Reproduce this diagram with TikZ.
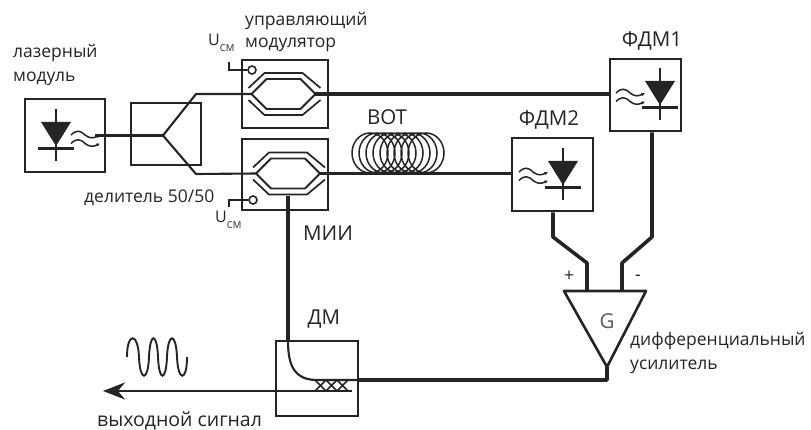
\documentclass[tikz,border=0pt]{standalone}
\usepackage{fontspec}
\setmainfont{Open Sans}
\usetikzlibrary{arrows.meta}
\definecolor{ink}{gray}{0.14}
\tikzset{
    diode/.pic={
        \fill[ink] (-15,-24) -- (15,-24) -- (0,0) -- cycle;
        \draw[ink, line width=2.2pt] (0,-37) -- (0,15);
        \draw[ink, line width=2.2pt] (-18,2.5) -- (18,2.5);
    },
    waves/.pic={
        \foreach \wy in {0,8.5} {
            \draw[ink, line width=1.5pt, -{Latex[length=3.5pt,width=3.5pt]}] (0,\wy)
                .. controls (5,\wy-5) and (9,\wy-5) .. (14,\wy)
                .. controls (19,\wy+4) and (23,\wy+3) .. (29,\wy);
        }
    },
    mzi/.pic={
        \draw[ink, line width=1.9pt, line join=round] (-32,0) -- (-17,-15) -- (17,-15) -- (32,0)
            -- (17,15) -- (-17,15) -- cycle;
        \draw[ink, line width=1.7pt] (-35,-6) -- (-19,-21) -- (19,-21) -- (37,-6);
        \draw[ink, line width=1.7pt] (-35,6) -- (-19,21) -- (19,21) -- (37,6);
    }
}
\begin{document}
\begin{tikzpicture}[
    x=1pt, y=-1pt,
    box/.style={rectangle, draw=ink, line width=2.6pt, inner sep=0pt},
    fibre/.style={draw=ink, line width=2.1pt},
    thickfibre/.style={draw=ink, line width=3.6pt},
    label/.style={inner sep=0pt, text=ink, font=\fontsize{17.5}{20}\selectfont},
    biglabel/.style={inner sep=0pt, text=ink, font=\fontsize{20.5}{24}\selectfont},
    volt/.style={inner sep=0pt, text=ink, font=\fontsize{16}{18}\selectfont}
]
\useasboundingbox (0,0) rectangle (811,430);
% boxes
\node[box, minimum width=80pt, minimum height=73pt] (laser) at (65,135.5) {};
\node[box, minimum width=70pt, minimum height=62pt] (splitter) at (166,134) {};
\node[box, minimum width=86pt, minimum height=68pt] (modtop) at (285,94) {};
\node[box, minimum width=86pt, minimum height=71pt] (modbottom) at (285,174.5) {};
\node[box, minimum width=71pt, minimum height=72pt] (fdmone) at (645.5,95) {};
\node[box, minimum width=81pt, minimum height=73pt] (fdmtwo) at (552.5,174.5) {};
\node[box, minimum width=82pt, minimum height=75pt] (dm) at (317,378.5) {};
% inner symbols
\pic at (56,146) {diode};
\pic at (71,135) {waves};
\pic at (563,185) {diode};
\pic at (519,172) {waves};
\pic at (660,105) {diode};
\pic at (616,93) {waves};
\pic at (283.5,94) {mzi};
\pic at (288,173.5) {mzi};
% fibre from the laser through the splitter
\coordinate (laserout) at (95,135.5);
\coordinate (splitapex) at (163,135.5);
\coordinate (armtop) at (196,94);
\coordinate (armbottom) at (196,174);
\coordinate (tiptopleft) at (252,94);
\coordinate (tiptopright) at (315,94);
\coordinate (tipbottomleft) at (256,173.5);
\coordinate (tipbottomright) at (320,173.5);
\draw[fibre] (laserout) -- (splitapex);
\draw[fibre, line join=round] (tiptopleft) -- (armtop) -- (splitapex) -- (armbottom) -- (tipbottomleft);
\draw[thickfibre] (tiptopright) -- (fdmone.west |- tiptopright);
\draw[fibre] (tipbottomright) -- (fdmtwo.west |- tipbottomright);
% delay coil
\foreach \cx in {370,377,...,430} {
    \draw[ink, line width=1.5pt] (\cx,153) ellipse (18pt and 20pt);
}
% bias electrodes
\node[circle, draw=ink, line width=1.6pt, minimum size=8pt, inner sep=0pt] (biastop) at (252,70) {};
\node[circle, draw=ink, line width=1.6pt, minimum size=8pt, inner sep=0pt] (biasbottom) at (253,200) {};
\coordinate (leadtop) at (229,62);
\coordinate (leadbottom) at (229,207);
\draw[ink, line width=1.8pt] (biastop) -| (leadtop);
\draw[ink, line width=1.8pt] (biasbottom) -| (leadbottom);
% amplifier
\node[inner sep=0pt, minimum size=0pt] (ampleft) at (564,291) {};
\node[inner sep=0pt, minimum size=0pt] (ampright) at (646,291) {};
\node[inner sep=0pt, minimum size=0pt] (amptip) at (607,367) {};
\draw[ink, line width=2.6pt, line join=round] (ampleft.center) -- (ampright.center) -- (amptip.center) -- cycle;
\coordinate (plusin) at (587,291);
\coordinate (minusin) at (622,291);
\draw[thickfibre, line join=round] (fdmtwo.south -| 553,0) -- (553,237) -- (587,263) -- (plusin);
\draw[thickfibre, line join=round] (fdmone.south -| 652,0) -- (652,237) -- (622,263) -- (minusin);
\coordinate (ampdown) at (607,380);
\draw[thickfibre, line join=round] (amptip.center) -- (ampdown) -- (dm.east |- ampdown);
% coupler and output
\coordinate (mznout) at (288,196);
\coordinate (couplerin) at (358,380);
\draw[thickfibre] (mznout) -- (288,341);
\draw[fibre] (288,341) .. controls (288,368) and (296,379) .. (315,380) -- (couplerin);
\foreach \xs in {315,326,337} {
    \draw[ink, line width=1.6pt] (\xs,380) -- (\xs+11,391);
    \draw[ink, line width=1.6pt] (\xs,391) -- (\xs+11,380);
}
\coordinate (outstart) at (352,391);
\coordinate (outend) at (103,391);
\draw[draw=ink, line width=2.9pt, -{Stealth[length=22pt,width=17pt]}] (outstart) -- (outend);
\draw[ink, line width=1.9pt] (127,357)
    .. controls (127,332) and (138,332) .. (139,357)
    .. controls (140,382) and (148,382) .. (149,357)
    .. controls (150,332) and (157,332) .. (158,357)
    .. controls (159,382) and (166,382) .. (167,357)
    .. controls (168,332) and (176,332) .. (177,357)
    .. controls (178,382) and (187,382) .. (187,357);
% labels
\node[label, anchor=west] (lbllaserone) at (13,53) {лазерный};
\node[label, anchor=west] (lbllasertwo) at (13,79) {модуль};
\node[label, anchor=west] (lblctrlone) at (245,21) {управляющий};
\node[label, anchor=west] (lblctrltwo) at (245,45) {модулятор};
\node[volt, anchor=west] (lblutop) at (208,43) {U\raisebox{-0.7ex}{\fontsize{9.5}{10}\selectfont СМ}};
\node[volt, anchor=west] (lblubottom) at (215,220) {U\raisebox{-0.7ex}{\fontsize{9.5}{10}\selectfont СМ}};
\node[label, anchor=west] (lblsplit) at (84,198) {делитель 50/50};
\node[biglabel] (lblcoil) at (387,117) {ВОТ};
\node[biglabel] (lblfdmtwo) at (549,120) {ФДМ2};
\node[biglabel] (lblfdmone) at (652,41) {ФДМ1};
\node[biglabel] (lblmii) at (328,233) {МИИ};
\node[biglabel] (lbldm) at (324,319) {ДМ};
\node[biglabel, text=black!65] (lblgain) at (607,321) {G};
\node[label] (lblplus) at (569,276) {+};
\node[label] (lblminus) at (638,278) {-};
\node[label, anchor=west] (lblampone) at (630,341) {дифференциальный};
\node[label, anchor=west] (lblamptwo) at (630,367) {усилитель};
\node[label, anchor=west, font=\fontsize{19.5}{22}\selectfont] (lblout) at (97,421) {выходной сигнал};
\end{tikzpicture}
\end{document}
